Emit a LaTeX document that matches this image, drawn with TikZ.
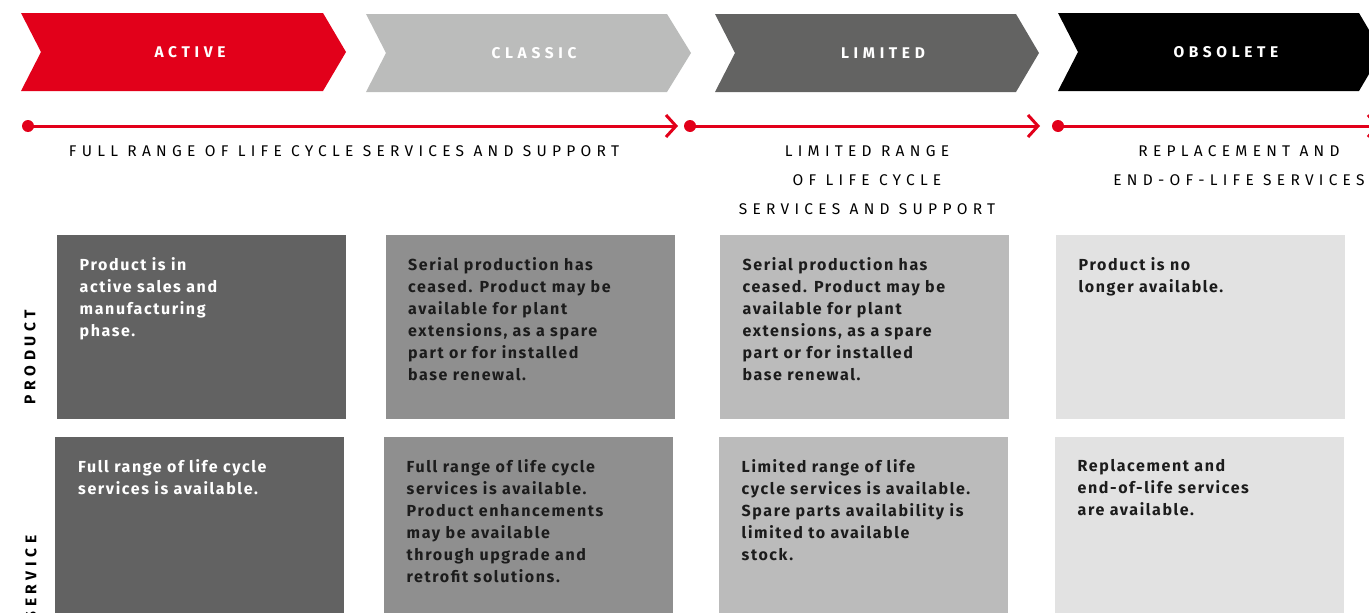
\documentclass[tikz,border=0pt]{standalone}
\usepackage{fontspec}
\setmainfont{Fira Sans}
\newfontfamily\widefont[LetterSpace=30]{Fira Sans}
\newfontfamily\rangefont[LetterSpace=34]{Fira Sans}
\newfontfamily\cellfont[LetterSpace=10]{Fira Sans}
\usepackage{tikz}
\usetikzlibrary{arrows.meta, calc, positioning}

\definecolor{abbred}{RGB}{226,0,26}
\definecolor{classicgray}{RGB}{187,188,187}
\definecolor{limitedgray}{RGB}{99,99,98}
\definecolor{cellA}{RGB}{98,98,98}
\definecolor{cellB}{RGB}{143,143,143}
\definecolor{cellC}{RGB}{187,187,187}
\definecolor{cellD}{RGB}{226,226,226}
\definecolor{inkdark}{RGB}{28,28,28}

\begin{document}
\begin{tikzpicture}[x=1pt, y=-1pt,
  phase/.style={text=white, font=\widefont\bfseries\fontsize{15.5}{18}\selectfont, inner sep=0pt},
  dot/.style={circle, fill=abbred, inner sep=0pt, minimum size=12pt},
  redline/.style={draw=abbred, line width=3pt, -{Straight Barb[length=10pt,width=22pt]}},
  rangetext/.style={font=\rangefont\fontsize{15.5}{29}\selectfont, align=center, anchor=north, inner sep=0pt,
    execute at begin node=\rule{0pt}{14pt}},
  cell/.style={anchor=north west, inner sep=0pt, minimum width=289pt, minimum height=184pt},
  celltext/.style={anchor=north west, inner sep=0pt, align=left,
    font=\cellfont\bfseries\fontsize{16}{22}\selectfont, execute at begin node=\rule{0pt}{14pt}},
  rowlabel/.style={rotate=90, font=\widefont\bfseries\fontsize{15.5}{18}\selectfont, inner sep=0pt}]
  \useasboundingbox (0,0) rectangle (1369,613);

  % phase arrows
  \fill[abbred] (21,13) -- (323,13) -- (346,52) -- (323,91) -- (21,91) -- (41,52) -- cycle;
  \node[phase] (active) at (190,52) {ACTIVE};
  \fill[classicgray] (366,14) -- (667,14) -- (691,53) -- (667,92) -- (366,92) -- (386,53) -- cycle;
  \node[phase] (classic) at (534,53) {CLASSIC};
  \fill[limitedgray] (715,14) -- (1016,14) -- (1039,53) -- (1016,92) -- (715,92) -- (735,53) -- cycle;
  \node[phase] (limited) at (883,53) {LIMITED};
  \fill[black] (1058,13) -- (1359,13) -- (1382,52) -- (1359,91) -- (1058,91) -- (1078,52) -- cycle;
  \node[phase] (obsolete) at (1226,52) {OBSOLETE};

  % time line
  \node[dot] (s1) at (28,126) {};
  \coordinate (e1) at (678,126);
  \node[dot] (s2) at (690,126) {};
  \coordinate (e2) at (1040,126);
  \node[dot] (s3) at (1058,126) {};
  \coordinate (e3) at (1380,126);
  \draw[redline] (s1.center) -- (e1);
  \draw[redline] (s2.center) -- (e2);
  \draw[redline] (s3.center) -- (e3);

  \node[rangetext] (fullrange) at (344,142) {FULL RANGE OF LIFE CYCLE SERVICES AND SUPPORT};
  \node[rangetext] (limrange) at (867,145) {LIMITED RANGE\\OF LIFE CYCLE\\SERVICES AND SUPPORT};
  \node[rangetext] (eol) at (1239,145) {REPLACEMENT AND\\END-OF-LIFE SERVICES};

  % product row
  \node[rowlabel] (product) at (30,357) {PRODUCT};
  \node[cell, fill=cellA] (pA) at (57,235) {};
  \node[cell, fill=cellB] (pB) at (386,235) {};
  \node[cell, fill=cellC] (pC) at (720,235) {};
  \node[cell, fill=cellD] (pD) at (1056,235) {};
  \node[celltext, text=white] (tpA) at ($(pA.north west)+(22.5,22.5)$)
    {Product is in\\active sales and\\manufacturing\\phase.};
  \node[celltext, text=inkdark] (tpB) at ($(pB.north west)+(22,22.5)$)
    {Serial production has\\ceased. Product may be\\available for plant\\extensions, as a spare\\part or for installed\\base renewal.};
  \node[celltext, text=inkdark] (tpC) at ($(pC.north west)+(22.5,22.5)$)
    {Serial production has\\ceased. Product may be\\available for plant\\extensions, as a spare\\part or for installed\\base renewal.};
  \node[celltext, text=inkdark] (tpD) at ($(pD.north west)+(22.5,22.5)$)
    {Product is no\\longer available.};

  % service row
  \node[rowlabel] (service) at (31,578) {SERVICE};
  \node[cell, fill=cellA] (sA) at (55,437) {};
  \node[cell, fill=cellB] (sB) at (384,437) {};
  \node[cell, fill=cellC] (sC) at (719,437) {};
  \node[cell, fill=cellD] (sD) at (1055,437) {};
  \node[celltext, text=white] (tsA) at ($(sA.north west)+(23,22.5)$)
    {Full range of life cycle\\services is available.};
  \node[celltext, text=inkdark] (tsB) at ($(sB.north west)+(22.5,22.5)$)
    {Full range of life cycle\\services is available.\\Product enhancements\\may be available\\through upgrade and\\retrofit solutions.};
  \node[celltext, text=inkdark] (tsC) at ($(sC.north west)+(22.5,22.5)$)
    {Limited range of life\\cycle services is available.\\Spare parts availability is\\limited to available\\stock.};
  \node[celltext, text=inkdark] (tsD) at ($(sD.north west)+(22.5,22.5)$)
    {Replacement and\\end-of-life services\\are available.};
\end{tikzpicture}
\end{document}
